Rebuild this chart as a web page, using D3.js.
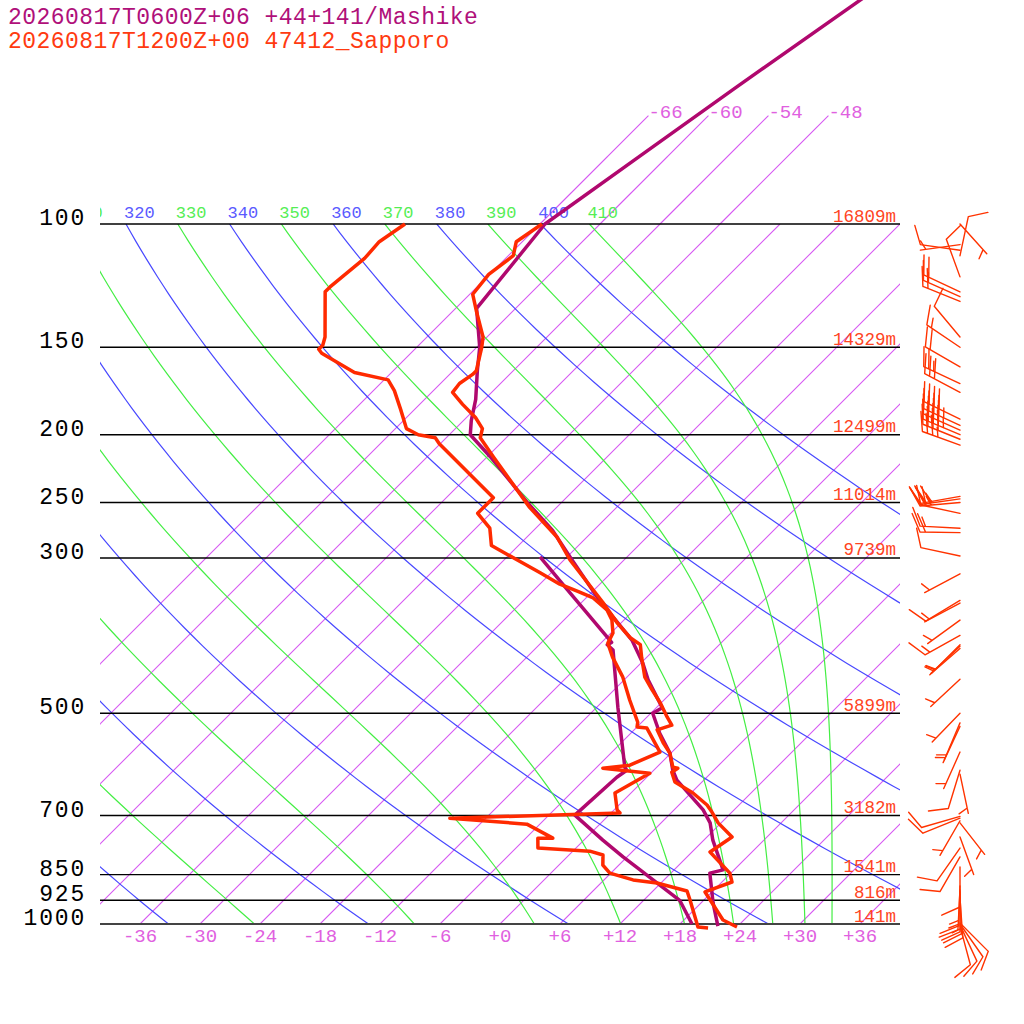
<!DOCTYPE html>
<html>
<head>
<meta charset="utf-8">
<script src="https://cdn.jsdelivr.net/npm/d3@7"></script>
<style>
  body { margin: 0; background: #fff; }
  svg { display: block; }
  text { font-family: "Liberation Mono", monospace; }
</style>
</head>
<body>
<script>
// ---- data ----
const titles = ["20260817T0600Z+06 +44+141/Mashike", "20260817T1200Z+00 47412_Sapporo"];

const levels = [100, 150, 200, 250, 300, 500, 700, 850, 925, 1000];
const heights = ["16809m", "14329m", "12499m", "11014m", "9739m", "5899m", "3182m", "1541m", "816m", "141m"];

const isotherms = d3.range(-66, 43, 6);
const stratIsotherms = [-66, -60, -54, -48];
const tempTicks = d3.range(-36, 37, 6);
const dryThetas = [240, 260, 280, 300, 320, 340, 360, 380, 400];
const moistThetas = [250, 270, 290, 310, 330, 350, 370, 390, 410];
const dryLabels = [320, 340, 360, 380, 400];
const moistLabels = [310, 330, 350, 370, 390, 410];

// Sapporo sounding (hPa, degC)
const sapTempP = [1010, 987, 900, 871, 846, 789, 751, 717, 692, 676, 650, 627, 607, 599, 597, 570, 551, 528, 520, 506, 483, 463, 444, 416, 399, 390, 372, 347, 302, 280, 254, 215, 202, 196, 189, 181, 174, 169, 164, 162, 150, 145, 133, 126, 118, 111, 106, 100];
const sapTemp = [24.0, 21.9, 17.3, 19.0, 17.9, 13.8, 14.5, 11.7, 10.0, 8.8, 6.2, 3.3, 2.0, 2.2, 1.6, -0.1, -1.8, -3.7, -2.7, -4.0, -6.1, -8.2, -10.2, -12.5, -13.9, -15.6, -18.3, -21.9, -29.4, -33.0, -38.7, -47.4, -50.6, -51.3, -53.1, -55.7, -57.9, -58.1, -57.7, -57.7, -59.5, -60.4, -63.7, -65.7, -66.1, -65.5, -66.6, -65.8];
const sapDewP = [1013, 1010, 924, 897, 874, 865, 846, 824, 797, 787, 779, 754, 754, 720, 706, 694, 687, 650, 609, 599, 593, 568, 525, 523, 515, 479, 444, 416, 397, 384, 368, 356, 342, 335, 327, 315, 288, 272, 259, 246, 206, 202, 200, 196, 184, 173, 167, 163, 153, 151, 149, 145, 125, 123, 112, 106, 100];
const sapDew = [21.2, 20.1, 16.6, 15.4, 11.6, 8.9, 5.9, 4.4, 3.4, 1.7, -3.8, -4.8, -3.3, -7.3, -15.6, 0.9, 0.3, -1.6, -0.1, -5.3, -2.9, -1.2, -4.9, -6.0, -6.4, -9.4, -12.4, -15.4, -17.3, -17.8, -19.2, -20.7, -23.3, -25.4, -28.0, -31.1, -38.7, -40.6, -43.3, -43.3, -54.1, -55.1, -57.1, -58.9, -61.4, -63.9, -65.6, -69.7, -74.9, -75.6, -75.6, -76.2, -80.7, -80.7, -80.1, -80.3, -79.5];

// Mashike model profile (hPa, degC)
const masTempP = [1007, 933, 846, 837, 759, 717, 687, 623, 603, 570, 534, 500, 491, 448, 424, 393, 345, 299, 274, 250, 215, 200, 191, 178, 162, 150, 132, 100, 80, 64, 48, 35];
const masTemp = [22.0, 19.2, 15.9, 16.9, 12.9, 10.9, 8.9, 3.3, 1.9, -0.1, -3.1, -5.8, -5.4, -9.6, -11.8, -15.2, -22.4, -29.7, -34.1, -39.4, -47.7, -51.9, -53.2, -54.9, -57.6, -59.7, -63.9, -65.5, -62.8, -60.1, -56.4, -52.5];
const masDewP = [1000, 925, 880, 837, 802, 759, 699, 617, 603, 597, 490, 406, 399, 396, 389, 333, 299];
const masDew = [19.2, 15.6, 12.1, 8.6, 5.6, 1.9, -3.4, -3.0, -2.7, -3.2, -9.9, -16.1, -17.2, -17.0, -18.0, -26.7, -32.7];

// Sapporo winds (hPa, deg, kt)
const windP = [100, 107, 109, 111, 119, 125, 127, 129, 145, 150, 160, 169, 174, 190, 194, 197, 200, 203, 207, 245, 247, 250, 259, 272, 276, 298, 316, 345, 348, 368, 387, 399, 401, 404, 447, 500, 516, 522, 568, 603, 611, 702, 706, 712, 717, 751, 779, 802, 829, 882, 894, 900, 906, 918, 997, 1000, 1003, 1007];
const windDir = [138, 262, 278, 12, 340, 295, 294, 292, 320, 304, 300, 295, 298, 296, 295, 294, 293, 292, 290, 260, 262, 265, 282, 273, 271, 282, 242, 239, 242, 234, 241, 225, 227, 229, 227, 224, 203, 205, 204, 197, 168, 254, 248, 210, 142, 160, 215, 210, 180, 182, 183, 180, 178, 176, 135, 145, 155, 165];
const windSpd = [5, 5, 10, 10, 10, 20, 15, 20, 10, 15, 20, 25, 30, 40, 45, 40, 45, 40, 35, 25, 30, 25, 20, 15, 20, 10, 5, 10, 5, 5, 15, 5, 5, 5, 5, 5, 5, 5, 5, 10, 5, 10, 10, 5, 5, 5, 10, 10, 10, 15, 15, 10, 15, 10, 10, 10, 10, 10];

// ---- setup ----
const colMashike = "#b0086e";
const colSapporo = "#ff2a00";
const colIso = "rgb(214,88,242)";
const colIsoText = "#e060e0";
const colDry = "#4848ff";
const colMoist = "#44ee44";

const svg = d3.select("body").append("svg")
    .attr("width", 1024)
    .attr("height", 1024);

const y = d3.scaleLog().domain([1000, 100]).range([924, 224]);
const xT = d3.scaleLinear().domain([-40, 40]).range([100, 900]);
// skewed x position: isotherms lean 45 degrees
const X = (t, p) => xT(t) + (y(1000) - y(p));

const defs = svg.append("defs");
defs.append("clipPath").attr("id", "plotclip")
    .append("rect").attr("x", 100).attr("y", 224).attr("width", 800).attr("height", 700);
defs.append("clipPath").attr("id", "lblclip")
    .append("rect").attr("x", 100).attr("y", 0).attr("width", 924).attr("height", 1024);

const plot = svg.append("g").attr("clip-path", "url(#plotclip)");
const lineGen = d3.line();

const profP = d3.range(0, 81).map(i => 1010 * Math.pow(100 / 1010, i / 80));

// isotherms (troposphere part clipped to the plot, a few run on up to 70 hPa)
plot.selectAll("line.iso")
    .data(isotherms)
    .join("line")
    .attr("class", "iso")
    .attr("x1", t => X(t, 1000)).attr("y1", y(1000))
    .attr("x2", t => X(t, 100)).attr("y2", y(100))
    .attr("stroke", colIso)
    .attr("stroke-width", 1.1);

svg.selectAll("line.strat")
    .data(stratIsotherms)
    .join("line")
    .attr("class", "strat")
    .attr("x1", t => X(t, 100)).attr("y1", y(100))
    .attr("x2", t => X(t, 70)).attr("y2", y(70))
    .attr("stroke", colIso)
    .attr("stroke-width", 1.1);

svg.selectAll("text.strat-lbl")
    .data(stratIsotherms)
    .join("text")
    .attr("class", "strat-lbl")
    .attr("x", t => X(t, 70)).attr("y", y(70) + 2)
    .attr("fill", colIsoText).style("font-size", "19px")
    .text(t => `${t}`);

// dry adiabats
const dryT = (th, p) => th * Math.pow(p / 1000, 0.2857) - 273.15;
plot.selectAll("path.dry")
    .data(dryThetas)
    .join("path")
    .attr("class", "dry")
    .attr("d", th => lineGen(profP.map(p => [X(dryT(th, p), p), y(p)])))
    .attr("fill", "none").attr("stroke", colDry).attr("stroke-width", 1.2);

// moist (pseudo) adiabats, labelled by equivalent potential temperature
function thetaE(tk, p) {
    const tc = tk - 273.15;
    const es = 6.112 * Math.exp(17.67 * tc / (tc + 243.5));
    if (es > 0.8 * p) return Infinity;
    const rs = 0.622 * es / (p - es);
    return tk * Math.pow(1000 / p, 0.2857) * Math.exp(2675 * rs / tk);
}
function moistT(the, p) {
    let lo = 150, hi = 340;
    for (let i = 0; i < 50; i++) {
        const mid = (lo + hi) / 2;
        if (thetaE(mid, p) > the) hi = mid; else lo = mid;
    }
    return (lo + hi) / 2 - 273.15;
}
plot.selectAll("path.moist")
    .data(moistThetas)
    .join("path")
    .attr("class", "moist")
    .attr("d", th => lineGen(profP.map(p => [X(moistT(th, p), p), y(p)])))
    .attr("fill", "none").attr("stroke", colMoist).attr("stroke-width", 1.2);

// adiabat labels along the top
const lblG = svg.append("g").attr("clip-path", "url(#lblclip)").style("font-size", "17px");
lblG.selectAll("text.dl")
    .data(dryLabels)
    .join("text")
    .attr("class", "dl")
    .attr("x", th => X(dryT(th, 100), 100) - 2).attr("y", 218)
    .attr("fill", "#5a5aff")
    .text(th => th);
lblG.selectAll("text.ml")
    .data(moistLabels)
    .join("text")
    .attr("class", "ml")
    .attr("x", th => X(moistT(th, 100), 100) - 2).attr("y", 218)
    .attr("fill", "#55ee55")
    .text(th => th);

// pressure levels
svg.selectAll("line.lev")
    .data(levels)
    .join("line")
    .attr("class", "lev")
    .attr("x1", 100).attr("x2", 900)
    .attr("y1", p => y(p)).attr("y2", p => y(p))
    .attr("stroke", p => p === 1000 ? "#444" : "#000")
    .attr("stroke-width", p => p === 1000 ? 2 : 1.4);

svg.selectAll("text.levlbl")
    .data(levels)
    .join("text")
    .attr("class", "levlbl")
    .attr("x", 86).attr("y", p => y(p) + 1)
    .attr("text-anchor", "end")
    .style("font-size", "23px")
    .style("letter-spacing", "1.8px")
    .attr("fill", "#000")
    .text(p => p);

svg.selectAll("text.hgt")
    .data(levels)
    .join("text")
    .attr("class", "hgt")
    .attr("x", 896).attr("y", p => y(p) - 2.5)
    .attr("text-anchor", "end")
    .style("font-size", "17.5px")
    .attr("fill", "#ff4422")
    .text((p, i) => heights[i]);

// temperature axis
svg.selectAll("text.tt")
    .data(tempTicks)
    .join("text")
    .attr("class", "tt")
    .attr("x", t => xT(t)).attr("y", 942)
    .attr("text-anchor", "middle")
    .style("font-size", "19px")
    .attr("fill", colIsoText)
    .text(t => t < 0 ? `${t}` : `+${t}`);

// profiles
function profile(ps, ts, color) {
    svg.append("path")
        .attr("d", lineGen(ps.map((p, i) => [X(ts[i], p), y(p)])))
        .attr("fill", "none")
        .attr("stroke", color)
        .attr("stroke-width", 3.5)
        .attr("stroke-linejoin", "round");
}
profile(masDewP, masDew, colMashike);
profile(masTempP, masTemp, colMashike);
profile(sapDewP, sapDew, colSapporo);
profile(sapTempP, sapTemp, colSapporo);

// wind barbs
const barbs = svg.append("g");
windP.forEach((p, i) => {
    const a = windDir[i] * Math.PI / 180;
    const sx = Math.sin(a), sy = -Math.cos(a);
    const x0 = 960, y0 = y(p);
    const L = 40, step = 5.5;
    const ex = x0 + L * sx, ey = y0 + L * sy;
    let fx = -sy + 0.45 * sx, fy = sx + 0.45 * sy;
    const fl = Math.hypot(fx, fy);
    fx /= fl; fy /= fl;
    let d = `M${x0},${y0}L${ex},${ey}`;
    const full = Math.floor(windSpd[i] / 10);
    const half = Math.round((windSpd[i] % 10) / 5);
    let k = 0;
    for (let j = 0; j < full; j++, k++) {
        const bx = ex - k * step * sx, by = ey - k * step * sy;
        d += `M${bx},${by}l${20 * fx},${20 * fy}`;
    }
    if (half) {
        if (k === 0) k = 1;
        const bx = ex - k * step * sx, by = ey - k * step * sy;
        d += `M${bx},${by}l${10 * fx},${10 * fy}`;
    }
    barbs.append("path").attr("d", d)
        .attr("fill", "none")
        .attr("stroke", "#ff3300")
        .attr("stroke-width", 1.4)
        .attr("stroke-linecap", "round");
});

// titles
svg.selectAll("text.title")
    .data(titles)
    .join("text")
    .attr("class", "title")
    .attr("x", 8).attr("y", (d, i) => 24 + i * 24)
    .style("font-size", "23px")
    .style("letter-spacing", "0.45px")
    .attr("fill", (d, i) => i === 0 ? "#b0107a" : "#ff3a10")
    .text(d => d);
</script>
</body>
</html>
